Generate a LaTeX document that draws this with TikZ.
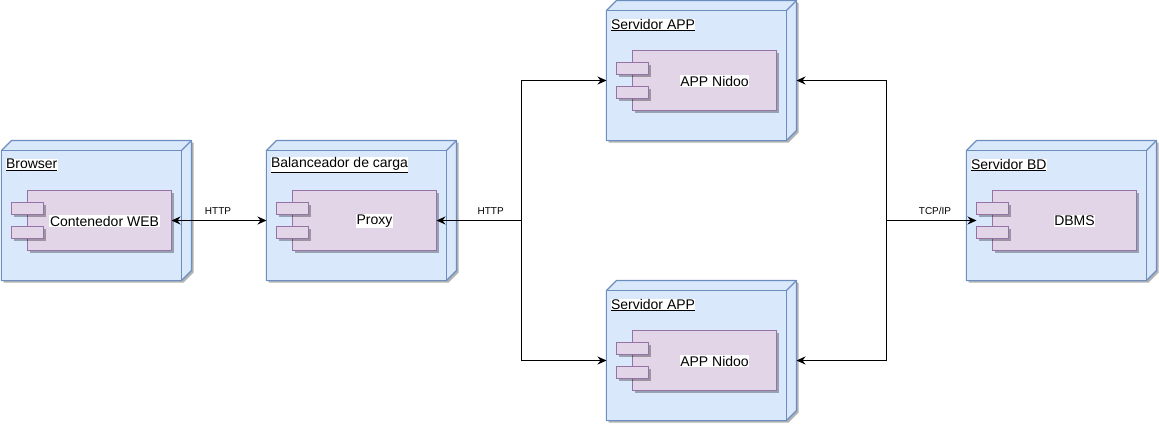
\documentclass[tikz,border=0pt]{standalone}
\usepackage{fontspec}
\setmainfont{Liberation Sans}
\usetikzlibrary{arrows.meta,positioning,shadows}
\definecolor{devblue}{HTML}{DAE8FC}
\definecolor{devline}{HTML}{6C8EBF}
\definecolor{comppurple}{HTML}{E1D5E7}
\definecolor{compline}{HTML}{9673A6}
\tikzset
{
    boxshadow/.style = {drop shadow={shadow xshift=2.5pt, shadow yshift=-2.5pt, opacity=0.3, fill=black}},
    devshadow/.style = {fill=black, opacity=0.3},
    device/.style    = {rectangle, draw=devline, fill=devblue, line width=1.1pt, minimum width=180pt, minimum height=130pt, inner sep=0pt, outer sep=0pt, anchor=north west},
    devface/.style   = {draw=devline, fill=devblue, line width=1.1pt, line join=round},
    component/.style = {rectangle, draw=compline, fill=comppurple, line width=1.1pt, minimum width=144pt, minimum height=60pt, inner sep=0pt, outer sep=0pt, anchor=north west, boxshadow},
    comptab/.style   = {rectangle, draw=compline, fill=comppurple, line width=1.1pt, minimum width=32pt, minimum height=12pt, inner sep=0pt, outer sep=0pt, anchor=north west, boxshadow},
    devtitle/.style  = {fill=white, inner sep=0.3pt, font=\fontsize{14}{16}\selectfont, anchor=west},
    comptext/.style  = {fill=white, inner sep=0.6pt, font=\fontsize{14}{16}\selectfont},
    linklabel/.style = {inner sep=0pt, font=\fontsize{10}{12}\selectfont},
    arrow/.style     = {line width=1pt, >={Stealth[length=9pt,width=8pt,inset=3pt]}}
}
% device with its component: name, x, y, title, text, text shift
\newcommand\deployNode[6]{
\fill[devshadow] ({#2+2},{#3+2}) -- ++(10,-10) -- ++(180,0) -- ++(0,130) -- ++(-10,10) -- ++(-180,0) -- cycle;
\draw[devface] (#2,#3) -- ++(10,-10) -- ++(180,0) -- ++(0,130) -- ++(-10,10) -- ++(-180,0) -- cycle;
\draw[devface] ({#2+180},#3) -- ++(10,-10);
\node(#1) [device] at (#2,#3) {};
\node(#1title) [devtitle] at ({#2+4},{#3+14.5}) {\underline{#4}};
\node(#1comp) [component] at ({#2+26},{#3+40}) {};
\node(#1tabA) [comptab] at ({#2+10},{#3+52}) {};
\node(#1tabB) [comptab] at ({#2+10},{#3+76}) {};
\node(#1text) [comptext] at ({#2+98+#6},{#3+70.5}) {#5};
\coordinate(#1tip) at ({#2+10},{#3+70});
\coordinate(#1back) at ({#2+190},{#3+70});
}
\begin{document}
\begin{tikzpicture}[x=1pt,y=-1pt]
\useasboundingbox (0,0) rectangle (1159,423);
\deployNode{browser}{1.5}{150.5}{Browser}{Contenedor WEB}{5}
\deployNode{proxy}{266.5}{150.5}{Balanceador de carga}{Proxy}{10}
\deployNode{appa}{606.5}{10.5}{Servidor APP}{APP Nidoo}{10}
\deployNode{appb}{606.5}{290.5}{Servidor APP}{APP Nidoo}{10}
\deployNode{dbms}{966.5}{150.5}{Servidor BD}{DBMS}{10}
\coordinate(left) at (521.5,220.5);
\coordinate(right) at (886.5,220.5);
\draw[<->,arrow] (browsercomp.east) -- (proxy.west |- browsercomp.east);
\draw[->,arrow] (left) -- (proxycomp.east);
\draw[->,arrow] (left) |- (appa.west |- appacomp.east);
\draw[->,arrow] (left) |- (appb.west |- appbcomp.east);
\draw[->,arrow] (right) |- (appaback |- appacomp.east);
\draw[->,arrow] (right) |- (appbback |- appbcomp.east);
\draw[->,arrow] (right) -- (dbmstip);
\node(httpa) [linklabel] at (218,211) {HTTP};
\node(httpb) [linklabel] at (490.7,211) {HTTP};
\node(tcpip) [linklabel] at (935,211) {TCP/IP};
\end{tikzpicture}
\end{document}
